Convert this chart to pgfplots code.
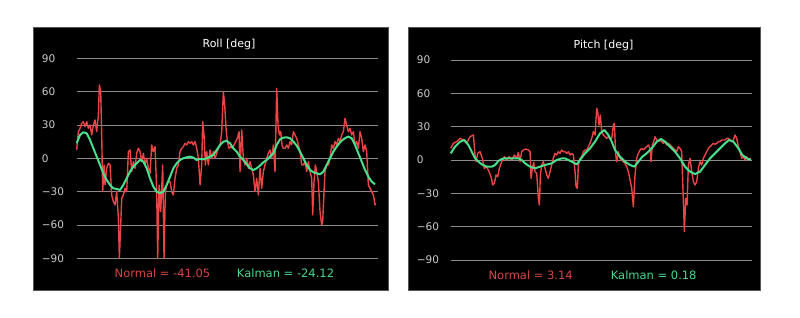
\documentclass[border=0pt]{standalone}
\usepackage{fontspec}
\setmainfont{DejaVu Sans}
\usepackage{pgfplots}
\usepackage{pgfplotstable}
\pgfplotsset{compat=1.18}
\definecolor{redl}{HTML}{EA4444}
\definecolor{greenl}{HTML}{48E08C}
\definecolor{redt}{HTML}{D84444}
\definecolor{greent}{HTML}{48D88A}
\definecolor{gridc}{HTML}{8C8C8C}
\definecolor{tickc}{HTML}{CCCCCC}
\definecolor{boxc}{HTML}{555555}

\pgfplotstableread{
x y
140 7.5
145 24
150 27
155 31.5
160 33
165 28.5
170 33
175 27
180 30
185 21
190 30
195 34.5
200 24
205 39
208 66
212 60
215 21
218 -30
222 -6
225 -24
230 -9
235 -4.5
240 -6
245 -33
250 -39
255 -42
260 -30
265 -54
268 -90
272 -60
275 -36
280 -33
285 -27
290 -30
295 6
300 7.5
305 -12
310 -3
315 -9
320 4.5
325 9
330 6
335 -3
340 4.5
345 -6
350 0
355 -9
360 -13.5
365 12
370 6
375 10.5
380 -30
383 -90
387 -24
392 -48
398 -6
402 -90
406 -30
410 -24
415 -21
420 -21
425 -30
430 -33
435 -18
440 -9
445 -6
450 6
455 9
460 10.5
465 13.5
470 12
475 15
480 13.5
485 15
490 12
495 15
500 9
505 0
510 -24
515 -6
518 33
522 21
526 -6
530 6
535 -6
540 7.5
545 0
550 6
555 0
560 4.5
565 9
570 12
575 24
580 60
584 48
588 27
592 15
597 9
602 10.5
607 9
612 12
617 15
622 18
627 24
630 -12
635 25.5
640 0
645 -6
650 0
655 -9
660 -3
665 -9
670 -15
675 -30
680 -18
685 -33
690 -9
695 -27
700 -12
705 -6
710 0
715 4.5
720 7.5
725 0
730 12
735 -12
740 63
744 30
748 21
752 24
756 12
760 9
765 9
770 12
775 9
780 15
785 12
790 24
795 21
800 18
805 12
810 6
815 -6
820 -6
825 -3
830 -12
835 -3
840 -12
845 -18
848 -51
852 -21
856 -6
860 -12
865 -21
870 -48
875 -60
878 -57
882 -30
885 -12
890 -6
895 -6
900 0
905 12
910 9
915 15
920 12
925 18
930 15
935 21
940 24
945 36
950 30
955 24
960 27
965 21
970 24
975 12
980 15
985 9
990 24
995 18
1000 6
1005 12
1010 6
1015 -24
1020 -27
1025 -30
1030 -33
1035 -42
1037 -40.5
}\rollnormal

\pgfplotstableread{
x y
140 13.5
150 21
160 23.4
170 22.5
180 16.5
190 9
200 1.5
210 -6
220 -13.5
230 -19.5
240 -24
250 -27
260 -27.6
270 -28.5
280 -24
290 -18
300 -12
310 -7.5
320 -4.5
330 -1.5
340 -3
350 -9
360 -18
370 -25.5
380 -30
390 -31.5
400 -30
410 -24
420 -16.5
430 -9
440 -4.5
450 -1.5
460 0
470 0.9
480 1.5
490 0.6
500 -1.5
510 -0.6
520 -0.9
530 0
540 1.5
550 3
560 7.5
570 12
580 15
590 15.6
600 13.5
610 9
620 6
630 1.5
640 -1.5
650 -5.4
660 -9
670 -10.5
680 -9
690 -6.6
700 -3.6
710 -1.5
720 1.5
730 4.5
740 12
750 17.1
760 18.6
770 18.9
780 18
790 15
800 11.4
810 6
820 0
830 -6
840 -10.5
850 -12.6
860 -13.5
870 -14.4
880 -12
890 -6
900 0
910 6
920 10.5
930 14.4
940 17.1
950 18.9
955 19.5
965 18
975 12
985 4.5
995 -3
1005 -10.5
1015 -16.5
1025 -21
1035 -23.4
}\rollkalman

\pgfplotstableread{
x y
137 10.5
145 15
155 16.5
165 19.5
175 18
185 15
195 21
205 22.5
210 4.5
213 -1.5
218 6
225 7.5
232 1.5
238 -7.5
245 -6
252 -10.5
258 -15
263 -22.5
268 -21
273 -13.5
278 -15
283 -7.5
290 -1.5
298 3
305 0
312 3
320 0
328 4.5
335 1.5
340 6.9
345 -1.5
350 7.5
355 9
362 9.9
370 9
375 7.5
378 -16.5
382 -7.5
386 -2.1
390 -10.5
395 -12
400 -34.5
403 -40.5
406 -13.5
410 -4.5
415 -1.5
420 -7.5
425 -13.5
430 -16.5
435 -10.5
440 -4.5
445 1.5
450 6
455 4.5
460 7.5
465 6
470 9
475 7.5
480 7.5
485 6
490 7.5
495 4.5
500 6
505 4.5
510 -10.5
513 -24
517 -25.5
520 -4.5
525 1.5
530 3
535 7.5
540 9
545 9
550 12
555 15
560 19.5
565 25.5
570 22.5
575 46.5
578 43.5
582 31.5
586 40.5
590 25.5
595 22.5
600 21
605 19.5
610 21
615 19.5
620 19.5
625 31.5
628 33
632 4.5
635 -1.5
640 7.5
645 1.5
650 0
655 -1.5
660 -3
665 -6
670 -10.5
675 -18
680 -25.5
685 -42
690 -13.5
695 1.5
700 6
705 9
710 10.5
715 9
720 10.5
725 12
730 13.5
735 10.5
738 -1.5
742 13.5
746 16.5
750 21
755 18
760 16.5
765 18
770 16.5
775 15
780 16.5
785 13.5
790 15
795 13.5
800 12
805 10.5
810 9
815 7.5
820 12
825 10.5
830 7.5
833 -19.5
836 -46.5
838 -64.5
842 -34.5
846 -40.5
850 -4.5
855 1.5
860 -10.5
865 -19.5
870 -22.5
875 -19.5
880 -7.5
885 -1.5
890 -4.5
895 1.5
900 4.5
905 7.5
910 10.5
915 12
920 13.5
925 15
930 14.1
935 15
940 16.5
945 16.5
950 18
955 18
960 18
965 19.5
970 19.5
975 18
980 16.5
985 18
990 22.5
995 19.5
1000 12
1005 7.5
1010 1.5
1015 3
1020 0
1025 3
1030 0
1035 1.5
1037 0
}\pitchnormal

\pgfplotstableread{
x y
137 6
150 12
165 16.5
178 18
190 13.5
200 7.5
210 1.5
220 -1.5
230 -3.9
245 -6
260 -6
270 -4.5
280 -0.9
290 0.9
300 1.5
320 1.5
340 1.5
350 0
360 -3
375 -6
390 -7.5
405 -6
420 -4.5
440 -3
455 0
470 1.5
480 1.5
490 0
500 -1.5
515 -3.9
525 0
540 6
555 10.5
570 16.5
585 24
598 27
610 22.5
620 16.5
630 9
645 3
660 -1.5
675 -4.5
688 -6
700 -1.5
712 3
725 6
740 10.5
755 16.5
768 18.9
780 16.5
795 12
810 7.5
825 1.5
840 -6
855 -10.5
870 -12.6
885 -10.5
900 -4.5
915 1.5
930 6
945 10.5
960 15
972 18
985 16.5
1000 10.5
1012 4.5
1025 1.5
1037 0
}\pitchkalman

\pgfplotsset{panel/.style={
  scale only axis, height=200pt,
  ymin=-90, ymax=90,
  ytick={-90,-60,-30,0,30,60,90},
  yticklabels={−90,−60,−30,0,30,60,90},
  ymajorgrids, grid style={gridc, line width=0.7pt},
  axis line style={draw=none},
  major tick length=0pt, xtick=\empty,
  yticklabel style={anchor=west, inner sep=0pt, text=tickc, font=\fontsize{10.5}{12}\selectfont},
  clip=false,
}}

\begin{document}
\begin{tikzpicture}
\fill[white] (0pt,0pt) rectangle (800pt,318pt);
\filldraw[fill=black, draw=boxc, line width=1pt] (33pt,27pt) rectangle (388pt,290pt);
\filldraw[fill=black, draw=boxc, line width=1pt] (408.5pt,27pt) rectangle (760pt,290pt);

\begin{axis}[panel, at={(76.7pt,59.7pt)}, anchor=south west, width=301pt,
  xmin=140, xmax=1043,
  yticklabel style={xshift=-35pt}]
\addplot[redl, line width=1.4pt, line join=round] table[x=x,y=y] {\rollnormal};
\addplot[greenl, line width=2pt, line join=round] table[x=x,y=y] {\rollkalman};
\end{axis}

\begin{axis}[panel, at={(450.7pt,58pt)}, anchor=south west, width=301pt,
  xmin=137, xmax=1040,
  yticklabel style={xshift=-34pt}]
\addplot[redl, line width=1.4pt, line join=round] table[x=x,y=y] {\pitchnormal};
\addplot[greenl, line width=2pt, line join=round] table[x=x,y=y] {\pitchkalman};
\end{axis}

\node[text=white, font=\fontsize{11}{13}\selectfont] at (229pt,274pt) {Roll [deg]};
\node[text=white, font=\fontsize{11}{13}\selectfont] at (603.5pt,272.3pt) {Pitch [deg]};
\node[text=redt, font=\fontsize{11.5}{13}\selectfont] at (162.5pt,45pt) {Normal = -41.05};
\node[text=greent, font=\fontsize{11.5}{13}\selectfont] at (285.5pt,45pt) {Kalman = -24.12};
\node[text=redt, font=\fontsize{11.5}{13}\selectfont] at (530.7pt,43pt) {Normal = 3.14};
\node[text=greent, font=\fontsize{11.5}{13}\selectfont] at (653.7pt,43pt) {Kalman = 0.18};
\end{tikzpicture}
\end{document}
